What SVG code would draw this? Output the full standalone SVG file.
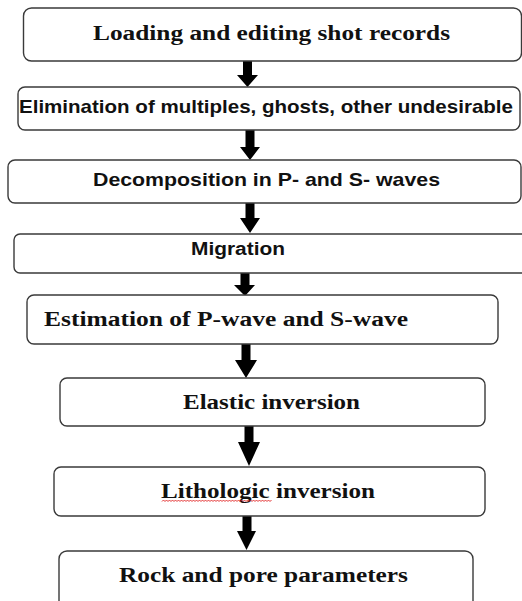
<svg xmlns="http://www.w3.org/2000/svg" width="522" height="601" viewBox="0 0 522 601">
<style>
.box{fill:#fff;stroke:#3a3a3a;stroke-width:1.4}
.serif{font-family:"Liberation Serif","Times New Roman",serif;font-weight:bold;font-size:20px;fill:#111}
.sans{font-family:"Liberation Sans",Arial,sans-serif;font-weight:bold;font-size:19px;fill:#111}
.arrow{fill:#000}
</style>
<rect width="522" height="601" fill="#fff"/>
<g id="connectors">
<polygon class="arrow" points="243,61 252,61 252,75 258,75 247.5,87 237,75 243,75"/>
<polygon class="arrow" points="245.5,130 254.5,130 254.5,147 260,147 250,160 240,147 245.5,147"/>
<polygon class="arrow" points="245.5,203 254.5,203 254.5,218 260,218 250,233 240,218 245.5,218"/>
<polygon class="arrow" points="240.5,273 249.5,273 249.5,285 255,285 245,296 234,285 240.5,285"/>
<polygon class="arrow" points="241.5,344 250.5,344 250.5,360 257,360 246,378 235,360 241.5,360"/>
<polygon class="arrow" points="244.5,426 253.5,426 253.5,442 260,442 249,466 238,442 244.5,442"/>
<polygon class="arrow" points="242.5,516 251.5,516 251.5,531 256,531 246.5,550 237,531 242.5,531"/>
</g>
<g id="n1"><rect class="box" x="23.5" y="8" width="498" height="53" rx="8"/><text class="serif" x="93" y="40" textLength="357" lengthAdjust="spacingAndGlyphs">Loading and editing shot records</text></g>
<g id="n2"><rect class="box" x="18" y="87" width="502" height="43" rx="7"/><text class="sans" x="19" y="113" textLength="494" lengthAdjust="spacingAndGlyphs">Elimination of multiples, ghosts, other undesirable</text></g>
<g id="n3"><rect class="box" x="8" y="160" width="513" height="43" rx="7"/><text class="sans" x="93" y="186" textLength="347" lengthAdjust="spacingAndGlyphs">Decomposition in P- and S- waves</text></g>
<g id="n4"><rect class="box" x="14" y="234" width="515" height="39" rx="6"/><text class="sans" x="191" y="255" style="font-size:18px" textLength="94" lengthAdjust="spacingAndGlyphs">Migration</text></g>
<g id="n5"><rect class="box" x="27" y="295" width="471" height="49" rx="7"/><text class="serif" x="44" y="326" textLength="364" lengthAdjust="spacingAndGlyphs">Estimation of P-wave and S-wave</text></g>
<g id="n6"><rect class="box" x="60" y="378" width="425" height="48" rx="7"/><text class="serif" x="183" y="409" textLength="177" lengthAdjust="spacingAndGlyphs">Elastic inversion</text></g>
<g id="n7"><rect class="box" x="54" y="467" width="431" height="49" rx="7"/><text class="serif" x="161" y="498" textLength="214" lengthAdjust="spacingAndGlyphs">Lithologic inversion</text><path d="M162,501.5 l1.5,-1.5 l1.5,1.5 l1.5,-1.5 l1.5,1.5 l1.5,-1.5 l1.5,1.5 l1.5,-1.5 l1.5,1.5 l1.5,-1.5 l1.5,1.5 l1.5,-1.5 l1.5,1.5 l1.5,-1.5 l1.5,1.5 l1.5,-1.5 l1.5,1.5 l1.5,-1.5 l1.5,1.5 l1.5,-1.5 l1.5,1.5 l1.5,-1.5 l1.5,1.5 l1.5,-1.5 l1.5,1.5 l1.5,-1.5 l1.5,1.5 l1.5,-1.5 l1.5,1.5 l1.5,-1.5 l1.5,1.5 l1.5,-1.5 l1.5,1.5 l1.5,-1.5 l1.5,1.5 l1.5,-1.5 l1.5,1.5 l1.5,-1.5 l1.5,1.5 l1.5,-1.5 l1.5,1.5 l1.5,-1.5 l1.5,1.5 l1.5,-1.5 l1.5,1.5 l1.5,-1.5 l1.5,1.5 l1.5,-1.5 l1.5,1.5 l1.5,-1.5 l1.5,1.5 l1.5,-1.5 l1.5,1.5 l1.5,-1.5 l1.5,1.5 l1.5,-1.5 l1.5,1.5 l1.5,-1.5 l1.5,1.5 l1.5,-1.5 l1.5,1.5 l1.5,-1.5 l1.5,1.5 l1.5,-1.5 l1.5,1.5 l1.5,-1.5 l1.5,1.5 l1.5,-1.5 l1.5,1.5 l1.5,-1.5 l1.5,1.5 l1.5,-1.5 l1.5,1.5 l1.5,-1.5" fill="none" stroke="#e02020" stroke-width="0.9"/></g>
<g id="n8"><rect class="box" x="59" y="551" width="414" height="60" rx="8"/><text class="serif" x="119" y="582" textLength="289" lengthAdjust="spacingAndGlyphs">Rock and pore parameters</text></g>
</svg>
